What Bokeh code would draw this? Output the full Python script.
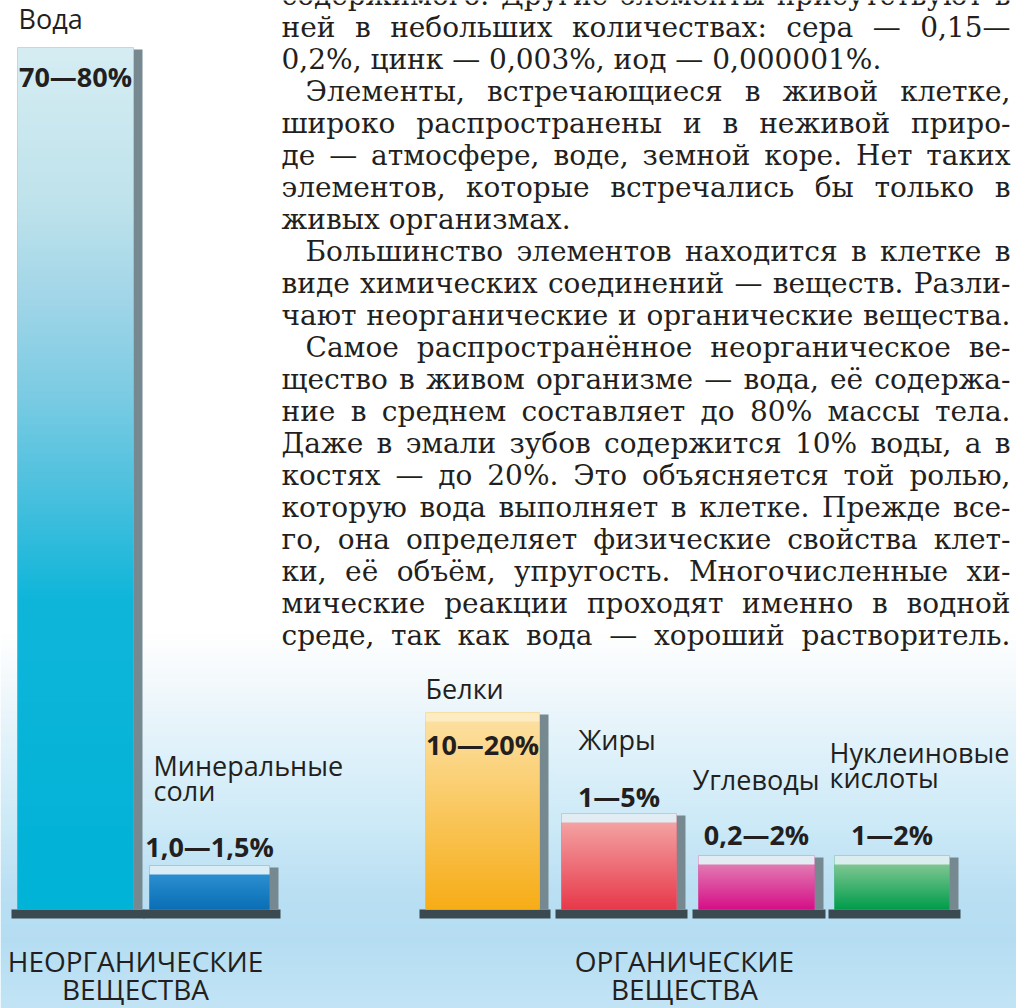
import glob, os, subprocess
import numpy as np
from bokeh.plotting import figure
from bokeh.models import Range1d, ColumnDataSource
from bokeh.core.properties import value
from bokeh.embed import file_html
from bokeh.resources import INLINE

# ------------------------------------------------------------------ data
categories = ["Вода", "Минеральные соли", "Белки", "Жиры", "Углеводы", "Нуклеиновые кислоты"]
name_lines = [["Вода"], ["Минеральные", "соли"], ["Белки"], ["Жиры"], ["Углеводы"], ["Нуклеиновые", "кислоты"]]
value_labels = ["70—80%", "1,0—1,5%", "10—20%", "1—5%", "0,2—2%", "1—2%"]
# drawn height of every bar (display units)
bar_heights = [86.2, 4.4, 19.7, 9.6, 5.4, 5.4]
group_titles = [["НЕОРГАНИЧЕСКИЕ", "ВЕЩЕСТВА"], ["ОРГАНИЧЕСКИЕ", "ВЕЩЕСТВА"]]

paragraph_lines = [
    "содержимого. Другие элементы присутствуют в",
    "ней в небольших количествах: сера — 0,15—",
    "0,2%, цинк — 0,003%, иод — 0,000001%.",
    "Элементы, встречающиеся в живой клетке,",
    "широко распространены и в неживой приро-",
    "де — атмосфере, воде, земной коре. Нет таких",
    "элементов, которые встречались бы только в",
    "живых организмах.",
    "Большинство элементов находится в клетке в",
    "виде химических соединений — веществ. Разли-",
    "чают неорганические и органические вещества.",
    "Самое распространённое неорганическое ве-",
    "щество в живом организме — вода, её содержа-",
    "ние в среднем составляет до 80% массы тела.",
    "Даже в эмали зубов содержится 10% воды, а в",
    "костях — до 20%. Это объясняется той ролью,",
    "которую вода выполняет в клетке. Прежде все-",
    "го, она определяет физические свойства клет-",
    "ки, её объём, упругость. Многочисленные хи-",
    "мические реакции проходят именно в водной",
    "среде, так как вода — хороший растворитель.",
]

# ------------------------------------------------------------------ layout / style
W, H = 1016, 1008
bar_x = [75, 209, 482, 618.5, 756, 891.5]
bar_w = [116, 120, 114, 115, 116, 115]
name_dx = [1, 4, 0, 17, -6, -5]             # from bar left edge
name_dy = [-18, -89, -13, -63, -65, -92]    # px from bar top (baseline of first line)
name_lh = 25
value_dy = [40, -8, 43, -6, -10, -10]
group_x = [135, 684]
group_y = [972, 1000]
BASELINE_FIX = 0.40     # renderer places alphabetic baseline this many em too low

face_top = ["#d6edf3", "#2b8fd0", "#fde0a0", "#f4a3a3", "#e27ab2", "#7fc792"]
face_bot = ["#00b3d7", "#0b6fb7", "#f7ad17", "#e8394b", "#d60f88", "#009d4b"]
highlight = [None, "#d9edf6", "#fdebc2", "#e2edf3", "#e2edf3", "#dcedf0"]
water_stops = [(0.0, "#00b3d7"), (0.36, "#0fb6da"), (0.47, "#45bfde"), (0.59, "#79cbe3"),
               (0.71, "#a2d6e8"), (0.82, "#bfe3ec"), (1.0, "#d6edf3")]
side_color = "#768991"
base_color = "#3b4a50"
text_color = "#231f20"
bg_stops = [(630, "#ffffff"), (680, "#f3f9fc"), (740, "#e2f2fa"), (820, "#cdeaf7"),
            (890, "#badff3"), (940, "#b5ddf2"), (1008, "#c2e4f5")]

PAR_L, PAR_R, PAR_INDENT = 281, 1010, 305
indent_lines = {3, 8, 11}
ragged_lines = {2, 7}
PAR_BASE0, PAR_LH = 6, 32

SANS = "Open Sans"
SERIF = "DejaVu Serif"
NAME_FS, VALUE_FS, GROUP_FS = 27, 27, 28


def hex2rgb(h):
    h = h.lstrip("#")
    return tuple(int(h[i:i + 2], 16) for i in (0, 2, 4))


def rgb2hex(c):
    return "#%02x%02x%02x" % tuple(int(round(v)) for v in c)


def interp_colors(ts, stops):
    st = np.array([s[0] for s in stops], float)
    cs = np.array([hex2rgb(s[1]) for s in stops], float)
    return np.stack([np.interp(ts, st, cs[:, k]) for k in range(3)], axis=1)


def grad_image(stops, n):
    t = (np.arange(n) + 0.5) / n
    rgb = interp_colors(t, stops)
    img = np.empty((n, 1), dtype=np.uint32)
    v = img.view(dtype=np.uint8).reshape((n, 1, 4))
    v[:, 0, 0] = rgb[:, 0]
    v[:, 0, 1] = rgb[:, 1]
    v[:, 0, 2] = rgb[:, 2]
    v[:, 0, 3] = 255
    return img


# ------------------------------------------------------------------ font metrics
def find_font_file(files, family):
    roots = ["/usr/share/fonts", "/usr/local/share/fonts",
             os.path.expanduser("~/.local/share/fonts"), os.path.expanduser("~/.fonts")]
    for fn in files:
        for r in roots:
            hits = glob.glob(os.path.join(r, "**", fn), recursive=True)
            if hits:
                return hits[0]
    try:
        out = subprocess.run(["fc-match", "-f", "%{file}", family], capture_output=True,
                             text=True, timeout=5).stdout.strip()
        if out and os.path.exists(out):
            return out
    except Exception:
        pass
    return None


_measure = None
try:
    from PIL import ImageFont
    path = find_font_file(["DejaVuSerif.ttf"], SERIF)
    if path:
        _f = ImageFont.truetype(path, 100)
        _measure = lambda s: _f.getlength(s) / 100.0
except Exception:
    _measure = None
if _measure is None:
    _measure = lambda s: 0.62 * len(s)


def tw(s, size):
    return _measure(s) * size


# font size: the size at which the justified lines fill naturally (median),
# limited so that no word gap gets tighter than 6px
fits, limits = [], []
for i, line in enumerate(paragraph_lines):
    if i in ragged_lines:
        continue
    words = line.split(" ")
    start = PAR_INDENT if i in indent_lines else PAR_L
    avail = PAR_R - start
    fits.append(avail / _measure(line))
    wsum1 = sum(_measure(w) for w in words)
    if len(words) > 1:
        limits.append((avail - 6 * (len(words) - 1)) / wsum1)
fs = float(min(np.median(fits), min(limits), 28.0))

px, py, pt = [], [], []
space = tw(" ", fs)
for i, line in enumerate(paragraph_lines):
    words = line.split(" ")
    start = PAR_INDENT if i in indent_lines else PAR_L
    widths = [tw(w, fs) for w in words]
    if i in ragged_lines or len(words) == 1:
        gap = space
    else:
        gap = (PAR_R - start - sum(widths)) / (len(words) - 1)
    x = start
    for w, wd in zip(words, widths):
        px.append(x)
        py.append(PAR_BASE0 + PAR_LH * i)
        pt.append(w)
        x += wd + gap

# ------------------------------------------------------------------ figure
BASE_PX = 909
p = figure(width=W, height=H, x_range=Range1d(0, W), y_range=Range1d(H, 0), title=None,
           toolbar_location=None, output_backend="svg", min_border=0,
           x_axis_location=None, y_axis_location=None)
p.extra_y_ranges = {"bars": Range1d(-(H - BASE_PX) / 10.0, BASE_PX / 10.0)}
p.grid.visible = False
p.outline_line_color = None
p.background_fill_color = "white"
p.border_fill_color = "white"

# background gradient
ys = np.arange(630, H, 2.0)
cols = [rgb2hex(c) for c in interp_colors(ys + 1, bg_stops)]
p.quad(left=0, right=W, top=ys, bottom=ys + 2.6, fill_color=cols, line_color=None)

lefts = [x - w / 2 for x, w in zip(bar_x, bar_w)]
rights = [x + w / 2 for x, w in zip(bar_x, bar_w)]
src = ColumnDataSource(dict(cat=categories, x=bar_x, w=bar_w, top=bar_heights,
                            left=lefts, right=rights,
                            bl=[l - 6 for l in lefts], br=[r + 11 for r in rights],
                            sl=rights, sr=[r + 9 for r in rights],
                            st=[h - 0.2 for h in bar_heights],
                            fill=face_bot))

# base shadows, side faces, bars
p.quad(left="bl", right="br", top=0.0, bottom=-0.9, source=src, fill_color=base_color,
       line_color=None, y_range_name="bars")
p.quad(left="sl", right="sr", top="st", bottom=0.0, source=src, fill_color=side_color,
       line_color=None, y_range_name="bars")
p.vbar(x="x", width="w", top="top", bottom=0, source=src, fill_color="fill",
       line_color=None, y_range_name="bars")

# gradient faces
for i, h in enumerate(bar_heights):
    n = max(4, int(round(h * 10)))
    if i == 0:
        stops = water_stops
    else:
        th = 1.0 - 0.9 / h
        stops = [(0.0, face_bot[i]), (th - 0.001, face_top[i]), (th, highlight[i]), (1.0, highlight[i])]
    p.image_rgba(image=[grad_image(stops, n)], x=lefts[i], y=0, dw=bar_w[i], dh=h,
                 y_range_name="bars")

# category names
nx, ny, nt, no = [], [], [], []
for i, lines in enumerate(name_lines):
    for k, t in enumerate(lines):
        nx.append(lefts[i] + name_dx[i])
        ny.append(bar_heights[i])
        nt.append(t)
        no.append(name_dy[i] + k * name_lh - BASELINE_FIX * NAME_FS)
p.text(x=nx, y=ny, text=nt, y_offset=no, y_range_name="bars", text_align="left",
       text_baseline="alphabetic", text_font=value(SANS), text_font_size=value("%dpx" % NAME_FS),
       text_color=text_color)

# value labels
p.text(x=bar_x, y=bar_heights, text=value_labels,
       y_offset=[d - BASELINE_FIX * VALUE_FS for d in value_dy], y_range_name="bars",
       text_align="center", text_baseline="alphabetic", text_font=value(SANS),
       text_font_style="bold", text_font_size=value("%dpx" % VALUE_FS), text_color=text_color)

# group titles
gx, gy, gt = [], [], []
for g, lines in enumerate(group_titles):
    for k, t in enumerate(lines):
        gx.append(group_x[g])
        gy.append(group_y[k])
        gt.append(t)
p.text(x=gx, y=gy, text=gt, y_offset=-BASELINE_FIX * GROUP_FS, text_align="center",
       text_baseline="alphabetic", text_font=value(SANS),
       text_font_size=value("%dpx" % GROUP_FS), text_color=text_color)

# paragraph
p.text(x=px, y=py, text=pt, y_offset=-BASELINE_FIX * fs, text_align="left",
       text_baseline="alphabetic", text_font=value(SERIF),
       text_font_size=value("%.2fpx" % fs), text_color=text_color)

open("out.html", "w").write(file_html(p, INLINE))
